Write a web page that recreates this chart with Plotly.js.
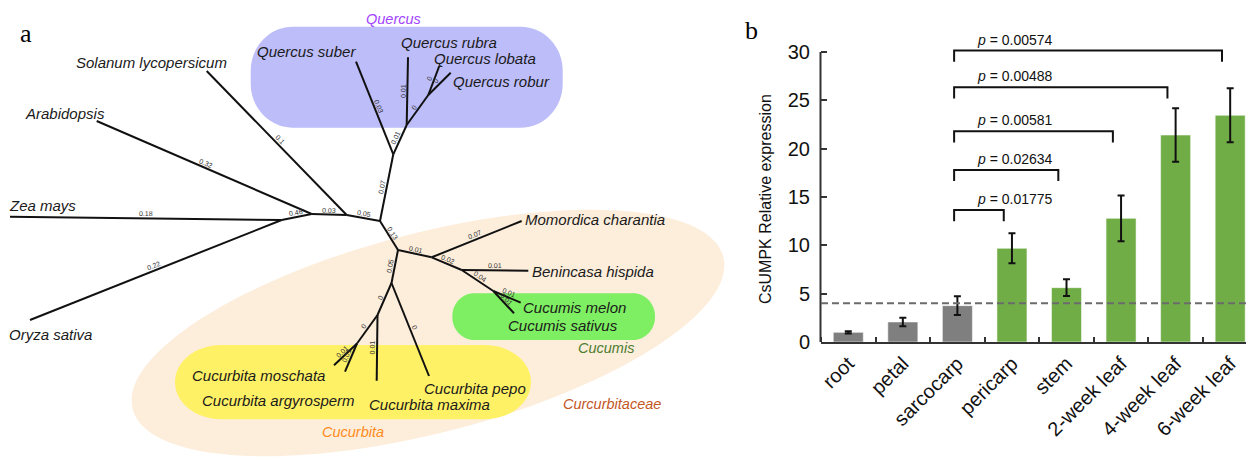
<!DOCTYPE html>
<html><head><meta charset="utf-8">
<script src="https://cdn.plot.ly/plotly-3.0.1.min.js"></script>
<style>html,body{margin:0;padding:0;background:#fff;}#chart{width:1246px;height:458px;}</style>
</head><body><div id="chart"></div>
<script>
// ================= Panel b data =================
const tissues = ['root','petal','sarcocarp','pericarp','stem','2-week leaf','4-week leaf','6-week leaf'];
const expression = [1.0, 2.07, 3.76, 9.69, 5.62, 12.79, 21.41, 23.45];
const expressionErr = [0.12, 0.43, 0.97, 1.55, 0.87, 2.36, 2.76, 2.79];
const tissueGroup = ['low','low','low','high','high','high','high','high'];
const thresholdValue = 4;
const compareFrom = [2, 2, 2, 2, 2];
const compareTo = [3, 4, 5, 6, 7];
const compareHeight = [13.65, 17.8, 21.8, 26.35, 30.15];
const pValues = ['0.01775', '0.02634', '0.00581', '0.00488', '0.00574'];
const yTicks = [0, 5, 10, 15, 20, 25, 30];
const yTitle = 'CsUMPK Relative expression';

// ================= Panel a data (tree) =================
const nodeNames = ['n1','n2','n3','n4','n5','n6','n7','n8','n9','n10','n11','n12','n13','n14',
  'Zea mays','Oryza sativa','Arabidopsis','Solanum lycopersicum','Quercus suber','Quercus rubra',
  'Quercus lobata','Quercus robur','Momordica charantia','Benincasa hispida','Cucumis melon',
  'Cucumis sativus','Cucurbita pepo','Cucurbita maxima','Cucurbita moschata','Cucurbita argyrosperm'];
const nodeX = [281.7, 311.7, 346.7, 380, 393.3, 406.7, 428.3, 398, 431.7, 461.7, 493.3, 391.5, 377.5, 357,
  10, 30, 96.7, 206.7, 356, 408, 439.3, 450.7, 521.7, 528.3, 520.7, 514, 429, 376.7, 334, 345];
const nodeY = [220, 214, 215, 221, 154.3, 125, 95, 250, 257.3, 270, 291, 283, 315, 343.5,
  216.7, 320, 121, 71, 61.7, 57.3, 66, 72.7, 221, 270.7, 302.7, 313.3, 376, 380.7, 365.3, 371.7];
const edgeParent = ['n1','n1','n1','n2','n2','n3','n3','n4','n5','n5','n6','n6','n7','n7',
  'n4','n8','n9','n9','n10','n10','n11','n11','n8','n12','n12','n13','n13','n14','n14'];
const edgeChild = ['Zea mays','Oryza sativa','n2','Arabidopsis','n3','Solanum lycopersicum','n4','n5',
  'Quercus suber','n6','Quercus rubra','n7','Quercus lobata','Quercus robur',
  'n8','n9','Momordica charantia','n10','Benincasa hispida','n11','Cucumis melon','Cucumis sativus',
  'n12','n13','Cucurbita pepo','n14','Cucurbita maxima','Cucurbita moschata','Cucurbita argyrosperm'];
const branchLength = ['0.18','0.22','0.46','0.32','0.03','0.1','0.05','0.07',
  '0.03','0.01','0.01','0','0','0',
  '0.13','0.01','0.07','0.02','0.01','0.04','0.01','0.01',
  '0.05','0','0','0','0.01','0.01','0.01'];
const speciesLabels = ['Solanum lycopersicum','Arabidopsis','Zea mays','Oryza sativa','Quercus suber',
  'Quercus rubra','Quercus lobata','Quercus robur','Momordica charantia','Benincasa hispida',
  'Cucumis melon','Cucumis sativus','Cucurbita moschata','Cucurbita argyrosperm','Cucurbita maxima','Cucurbita pepo'];
const speciesLabelX = [75, 24, 8, 8, 256, 399.5, 433, 451.5, 524, 531, 522, 507, 190.5, 201, 368, 423];
const speciesLabelY = [62.7, 113.3, 205.7, 334.3, 51, 42, 58.5, 81, 219.3, 271.7, 307.7, 325, 375.7, 400.7, 404.3, 388.3];
const cladeNames = ['Quercus', 'Cucumis', 'Cucurbita', 'Curcurbitaceae'];
const cladeLabelX = [365, 577, 321, 562];
const cladeLabelY = [19.3, 348, 432.3, 404];
const cladeColors = ['#A244FF', '#4E7C2E', '#FF8C22', '#C4561F'];

// ================= Build =================
const FONT = 'Liberation Sans, Arial, Helvetica, sans-serif';
const W = 1246, H = 458;
const idx = {}; nodeNames.forEach((n, i) => idx[n] = i);

const treeX = [], treeY = [];
edgeParent.forEach((p, k) => {
  const a = idx[p], b = idx[edgeChild[k]];
  treeX.push(nodeX[a], nodeX[b], null);
  treeY.push(nodeY[a], nodeY[b], null);
});

const annotations = [];
// branch length labels
edgeParent.forEach((p, k) => {
  const a = idx[p], b = idx[edgeChild[k]];
  const dx = nodeX[b] - nodeX[a], dy = nodeY[b] - nodeY[a];
  let ang = Math.atan2(dy, dx) * 180 / Math.PI;
  if (ang > 90) ang -= 180;
  if (ang <= -90) ang += 180;
  const r = ang * Math.PI / 180;
  const off = 4.5;
  const mx = (nodeX[a] + nodeX[b]) / 2 + Math.sin(r) * off;
  const my = (nodeY[a] + nodeY[b]) / 2 - Math.cos(r) * off;
  annotations.push({xref: 'x2', yref: 'y2', x: mx, y: my, text: branchLength[k], showarrow: false,
    textangle: ang, font: {family: FONT, size: 7, color: '#333'}, xanchor: 'center', yanchor: 'middle', borderpad: 0});
});
speciesLabels.forEach((s, k) => {
  annotations.push({xref: 'x2', yref: 'y2', x: speciesLabelX[k], y: speciesLabelY[k], text: '<i>' + s + '</i>',
    showarrow: false, xanchor: 'left', yanchor: 'middle', borderpad: 0,
    font: {family: FONT, size: 15, color: '#1a1a1a'}});
});
cladeNames.forEach((s, k) => {
  annotations.push({xref: 'x2', yref: 'y2', x: cladeLabelX[k], y: cladeLabelY[k], text: '<i>' + s + '</i>',
    showarrow: false, xanchor: 'left', yanchor: 'middle', borderpad: 0,
    font: {family: FONT, size: 14.5, color: cladeColors[k]}});
});
annotations.push({xref: 'paper', yref: 'paper', x: 26 / W, y: 1 - 33 / H, text: 'a', showarrow: false,
  font: {family: 'Liberation Serif, Times New Roman, serif', size: 26, color: '#000'}, xanchor: 'center', yanchor: 'middle'});
annotations.push({xref: 'paper', yref: 'paper', x: 752 / W, y: 1 - 30 / H, text: 'b', showarrow: false,
  font: {family: 'Liberation Serif, Times New Roman, serif', size: 26, color: '#000'}, xanchor: 'center', yanchor: 'middle'});
annotations.push({xref: 'paper', yref: 'paper', x: 766 / W, y: 1 - 199 / H, text: yTitle, showarrow: false,
  textangle: -90, font: {family: FONT, size: 16, color: '#111'}, xanchor: 'center', yanchor: 'middle'});
// p-value labels
pValues.forEach((p, k) => {
  annotations.push({xref: 'x', yref: 'y', x: compareFrom[k] + 0.34, y: compareHeight[k], yshift: 11,
    text: '<i>p</i> = ' + p, showarrow: false, xanchor: 'left', yanchor: 'middle', borderpad: 0,
    font: {family: FONT, size: 14, color: '#111'}});
});

// bracket lines
const brX = [], brY = [];
compareTo.forEach((t, k) => {
  const x0 = compareFrom[k] - 0.06, x1 = t - 0.15, h = compareHeight[k], leg = 1.15;
  brX.push(x0, x0, x1, x1, null);
  brY.push(h - leg, h, h, h - leg, null);
});

function roundRect(x0, y0, x1, y1, rx, ry) {
  const k = 0.5523;
  return `M${x0 + rx},${y0} L${x1 - rx},${y0} C${x1 - rx + k * rx},${y0} ${x1},${y0 + ry - k * ry} ${x1},${y0 + ry} ` +
    `L${x1},${y1 - ry} C${x1},${y1 - ry + k * ry} ${x1 - rx + k * rx},${y1} ${x1 - rx},${y1} ` +
    `L${x0 + rx},${y1} C${x0 + rx - k * rx},${y1} ${x0},${y1 - ry + k * ry} ${x0},${y1 - ry} ` +
    `L${x0},${y0 + ry} C${x0},${y0 + ry - k * ry} ${x0 + rx - k * rx},${y0} ${x0 + rx},${y0} Z`;
}
function ellipsePath(cx, cy, a, b, deg) {
  const t = deg * Math.PI / 180, k = 0.5523;
  const u = [a * Math.cos(t), -a * Math.sin(t)], v = [b * Math.sin(t), b * Math.cos(t)];
  const P = (cu, cv) => `${cx + cu * u[0] + cv * v[0]},${cy + cu * u[1] + cv * v[1]}`;
  return `M${P(1, 0)} C${P(1, k)} ${P(k, 1)} ${P(0, 1)} C${P(-k, 1)} ${P(-1, k)} ${P(-1, 0)} ` +
    `C${P(-1, -k)} ${P(-k, -1)} ${P(0, -1)} C${P(k, -1)} ${P(1, -k)} ${P(1, 0)} Z`;
}

const shapes = [
  {type: 'path', xref: 'x2', yref: 'y2', layer: 'below', path: ellipsePath(428, 333, 305, 100, 14.5), fillcolor: '#FDEEDC', line: {width: 0}},
  {type: 'path', xref: 'x2', yref: 'y2', layer: 'below', path: roundRect(250.7, 26.7, 562.7, 127.7, 42, 44), fillcolor: '#BDBDFA', line: {width: 0}},
  {type: 'path', xref: 'x2', yref: 'y2', layer: 'below', path: roundRect(452.3, 293.3, 655, 340, 22, 23), fillcolor: '#7EEE62', line: {width: 0}},
  {type: 'path', xref: 'x2', yref: 'y2', layer: 'below', path: roundRect(175, 345, 531, 419.3, 46, 37), fillcolor: '#FFF166', line: {width: 0}},
  // y axis line of panel b (0..30)
  {type: 'line', xref: 'paper', yref: 'y', x0: 820.5 / W, x1: 820.5 / W, y0: 0, y1: 30, line: {color: '#333', width: 2}},
  // threshold dashed line
  {type: 'line', xref: 'x', yref: 'y', x0: -0.5, x1: 7.3, y0: thresholdValue, y1: thresholdValue, line: {color: '#6b6b6b', width: 2, dash: '7px,4px'}}
];

const traces = [
  {type: 'scatter', mode: 'lines', x: treeX, y: treeY, xaxis: 'x2', yaxis: 'y2', line: {color: '#111', width: 2}, hoverinfo: 'skip'},
  {type: 'bar', x: tissues.map((_, i) => i), y: expression, width: 0.55,
    marker: {color: tissueGroup.map(g => g === 'low' ? '#7F7F7F' : '#70AD47'), line: {color: 'rgba(255,255,255,0.5)', width: 1}},
    error_y: {type: 'data', array: expressionErr, visible: true, color: '#111', thickness: 2, width: 3.5}},
  {type: 'scatter', mode: 'lines', x: brX, y: brY, line: {color: '#111', width: 2}, hoverinfo: 'skip'}
];

const layout = {
  width: W, height: H, margin: {l: 0, r: 0, t: 0, b: 0, pad: 0},
  paper_bgcolor: '#fff', plot_bgcolor: 'rgba(0,0,0,0)', showlegend: false,
  font: {family: FONT, color: '#111'},
  xaxis: {domain: [821 / W, 1], range: [-0.5, 7.29], tickmode: 'array', tickvals: tissues.map((_, i) => i), ticktext: tissues,
    tickangle: -45, ticks: '', tickfont: {size: 20, color: '#111'}, showline: true, linecolor: '#333', linewidth: 2,
    showgrid: false, zeroline: false, fixedrange: true,
    minor: {ticks: 'inside', tick0: 0.5, dtick: 1, ticklen: 5, tickwidth: 2, tickcolor: '#333', showgrid: false}},
  yaxis: {domain: [(H - 342) / H, (H - 46.2) / H], range: [0, 30.6], tickmode: 'array', tickvals: yTicks,
    ticks: 'inside', ticklen: 6, tickwidth: 2, tickcolor: '#333', showline: false, showgrid: false, zeroline: false,
    tickfont: {size: 20, color: '#111'}, ticklabelstandoff: 10, fixedrange: true},
  xaxis2: {domain: [0, 740 / W], range: [0, 740], visible: false, fixedrange: true, anchor: 'y2'},
  yaxis2: {domain: [0, 1], range: [H, 0], visible: false, fixedrange: true, anchor: 'x2'},
  shapes: shapes, annotations: annotations
};
Plotly.newPlot('chart', traces, layout, {displayModeBar: false, staticPlot: true});
</script></body></html>
